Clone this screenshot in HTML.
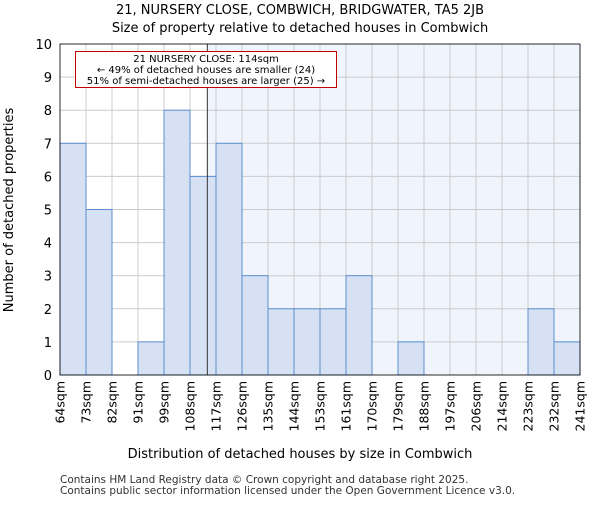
<!DOCTYPE html>
<html><head><meta charset="utf-8"><style>body{margin:0;background:#fff}svg{font-family:"DejaVu Sans","Liberation Sans",sans-serif}</style></head>
<body>
<svg id="c" width="600" height="500" xmlns="http://www.w3.org/2000/svg"></svg>
<script>
const binEdges=[64,73,82,91,99,108,117,126,135,144,153,161,170,179,188,197,206,214,223,232,241];
const counts=[7,5,0,1,8,6,7,3,2,2,2,3,0,1,0,0,0,0,2,1];
const yTicks=[0,1,2,3,4,5,6,7,8,9,10];
const markerValue=114;
const NS="http://www.w3.org/2000/svg";
const svg=document.getElementById('c');
const X0=60,X1=580,Y0=375,Y1=44,nb=counts.length,bw=(X1-X0)/nb;
function xi(i){return X0+i*bw;}
function y(v){return Y0-(Y0-Y1)*v/10;}
function xv(v){for(let i=0;i<nb;i++){if(v<=binEdges[i+1])return xi(i)+bw*(v-binEdges[i])/(binEdges[i+1]-binEdges[i]);}return X1;}
function el(t,a,txt){const e=document.createElementNS(NS,t);for(const k in a)e.setAttribute(k,a[k]);if(txt!==undefined)e.textContent=txt;svg.appendChild(e);return e;}
const mx=xv(markerValue);
let e=el('rect',{x:mx,y:Y1,width:X1-mx,height:Y0-Y1,fill:'#f0f4fc'});


yTicks.forEach(t=>{let g=el('line',{x1:X0,x2:X1,y1:y(t),y2:y(t),stroke:'#cccccc'});


let l=el('text',{x:X0-8,y:y(t)+5,'text-anchor':'end','font-size':13,fill:'#000'},t);

});
for(let i=0;i<=nb;i++){let g=el('line',{x1:xi(i),x2:xi(i),y1:Y1,y2:Y0,stroke:'#cccccc'});

}
counts.forEach((c,i)=>{if(c<=0)return;let b=el('rect',{x:xi(i),y:y(c),width:bw,height:Y0-y(c),fill:'#d6e2f3',stroke:'#5b8fd0','stroke-width':1});

});
binEdges.forEach((v,i)=>{let t=el('text',{transform:`translate(${xi(i)+4.5},381) rotate(-90)`,'text-anchor':'end','font-size':12.5,fill:'#000'},v+'sqm');

});
e=el('line',{x1:mx,x2:mx,y1:Y1,y2:Y0,stroke:'#333','stroke-width':1});


e=el('rect',{x:75.5,y:51.5,width:261,height:36,fill:'#fff',stroke:'#c00000','stroke-width':1});


[['21 NURSERY CLOSE: 114sqm',62],['← 49% of detached houses are smaller (24)',73],['51% of semi-detached houses are larger (25) →',84]].forEach(([s,yy])=>{let t=el('text',{x:206,y:yy,'text-anchor':'middle','font-size':10,fill:'#000'},s);

});
e=el('rect',{x:X0,y:Y1,width:X1-X0,height:Y0-Y1,fill:'none',stroke:'#000','stroke-width':0.8});


e=el('text',{x:300,y:14,'text-anchor':'middle','font-size':13},'21, NURSERY CLOSE, COMBWICH, BRIDGWATER, TA5 2JB');


e=el('text',{x:300,y:32,'text-anchor':'middle','font-size':13},'Size of property relative to detached houses in Combwich');


e=el('text',{x:300,y:458,'text-anchor':'middle','font-size':13},'Distribution of detached houses by size in Combwich');


e=el('text',{transform:'translate(13,210) rotate(-90)','text-anchor':'middle','font-size':13},'Number of detached properties');


e=el('text',{x:60,y:483,'font-size':10.5,fill:'#333'},'Contains HM Land Registry data © Crown copyright and database right 2025.');


e=el('text',{x:60,y:494,'font-size':10.5,fill:'#333'},'Contains public sector information licensed under the Open Government Licence v3.0.');


</script>
</body></html>
